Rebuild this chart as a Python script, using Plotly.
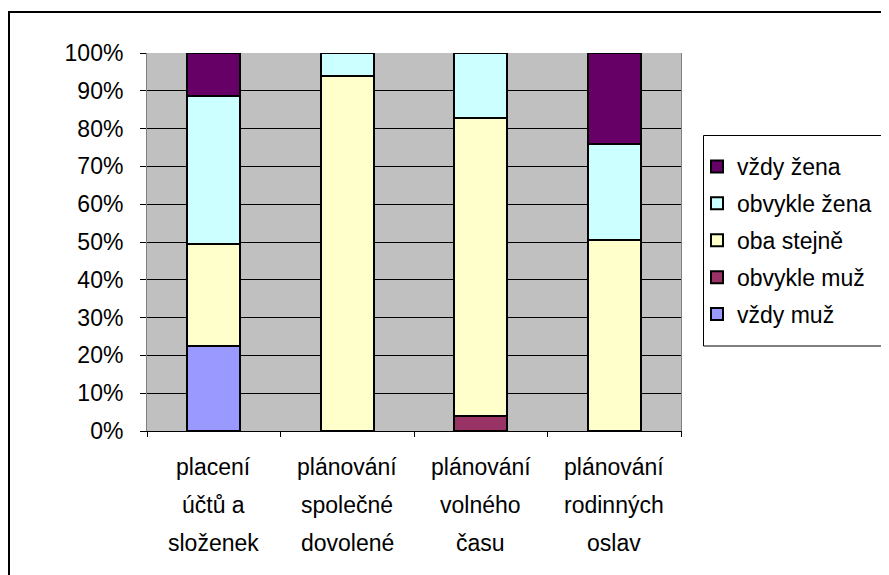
import plotly.graph_objects as go

categories = ["placení<br>účtů a<br>složenek", "plánování<br>společné<br>dovolené",
              "plánování<br>volného<br>času", "plánování<br>rodinných<br>oslav"]
series_names = ["vždy muž", "obvykle muž", "oba stejně", "obvykle žena", "vždy žena"]
vzdy_muz = [22.6, 0.0, 0.0, 0.0]
obvykle_muz = [0.0, 0.0, 4.0, 0.0]
oba_stejne = [26.9, 94.0, 78.9, 50.5]
obvykle_zena = [39.2, 6.0, 17.1, 25.5]
vzdy_zena = [11.3, 0.0, 0.0, 24.0]
series_values = [vzdy_muz, obvykle_muz, oba_stejne, obvykle_zena, vzdy_zena]
colors = ["#9999FF", "#993366", "#FFFFCC", "#CCFFFF", "#660066"]
y_ticks = [0, 10, 20, 30, 40, 50, 60, 70, 80, 90, 100]

FONT = "Liberation Sans, Arial, sans-serif"
FS = 23

fig = go.Figure()
n = len(series_names)
for i, (name, vals, col) in enumerate(zip(series_names, series_values, colors)):
    fig.add_trace(go.Bar(
        x=categories, y=vals, name=name, legendgroup=f"g{i}", legendrank=n - i,
        marker=dict(color=col, line=dict(color="black", width=2)),
    ))

# page body has an 8px margin; targets below are in window pixels
OFF = 8
W, H = 889 - OFF, 575 - OFF
L, R, T, B = 147 - OFF, 889 - 681, 53 - OFF, 575 - 431
pw, ph = W - L - R, H - T - B

def px(x):
    return (x - OFF - L) / pw

def py(y):
    return (H - B - (y - OFF)) / ph

annotations = []
for cat in categories:
    for j, line in enumerate(cat.split("<br>")):
        annotations.append(dict(
            x=cat, xref="x", y=0, yref="paper", text=line, showarrow=False,
            yanchor="middle", xanchor="center", yshift=-36 - 38 * j,
            font=dict(family=FONT, size=FS, color="black"),
        ))

fig.update_layout(
    width=W, height=H,
    margin=dict(l=L, r=R, t=T, b=B, pad=0),
    barmode="stack", bargap=0.6,
    paper_bgcolor="white", plot_bgcolor="#C0C0C0",
    font=dict(family=FONT, size=FS, color="black"),
    showlegend=True,
    legend=dict(
        traceorder="grouped", tracegroupgap=4,
        x=px(697), xanchor="left", y=py(145), yanchor="top",
        bgcolor="rgba(0,0,0,0)", borderwidth=0,
        font=dict(family=FONT, size=FS, color="black"),
    ),
    xaxis=dict(
        showticklabels=False, ticks="outside", tickson="boundaries",
        ticklen=5, tickcolor="black", tickwidth=1,
        showline=True, linecolor="black", linewidth=1,
        showgrid=False, fixedrange=True,
    ),
    yaxis=dict(
        range=[0, 100], tickvals=y_ticks, ticktext=[f"{v}%" for v in y_ticks],
        ticks="outside", ticklen=6, tickcolor="black", tickwidth=1,
        ticklabelstandoff=12,
        showline=True, linecolor="#808080", linewidth=1, mirror=True,
        showgrid=True, gridcolor="black", gridwidth=1, zeroline=False,
        fixedrange=True,
    ),
    annotations=annotations,
    shapes=[
        dict(type="rect", xref="paper", yref="paper",
             x0=px(9), x1=px(900), y0=py(590), y1=py(12),
             line=dict(color="black", width=2), fillcolor="rgba(0,0,0,0)", layer="above"),
        dict(type="rect", xref="paper", yref="paper",
             x0=px(703.5), x1=px(900), y0=py(346), y1=py(135.5),
             line=dict(color="black", width=1), fillcolor="rgba(0,0,0,0)", layer="above"),
    ],
)

fig.write_html("out.html")
